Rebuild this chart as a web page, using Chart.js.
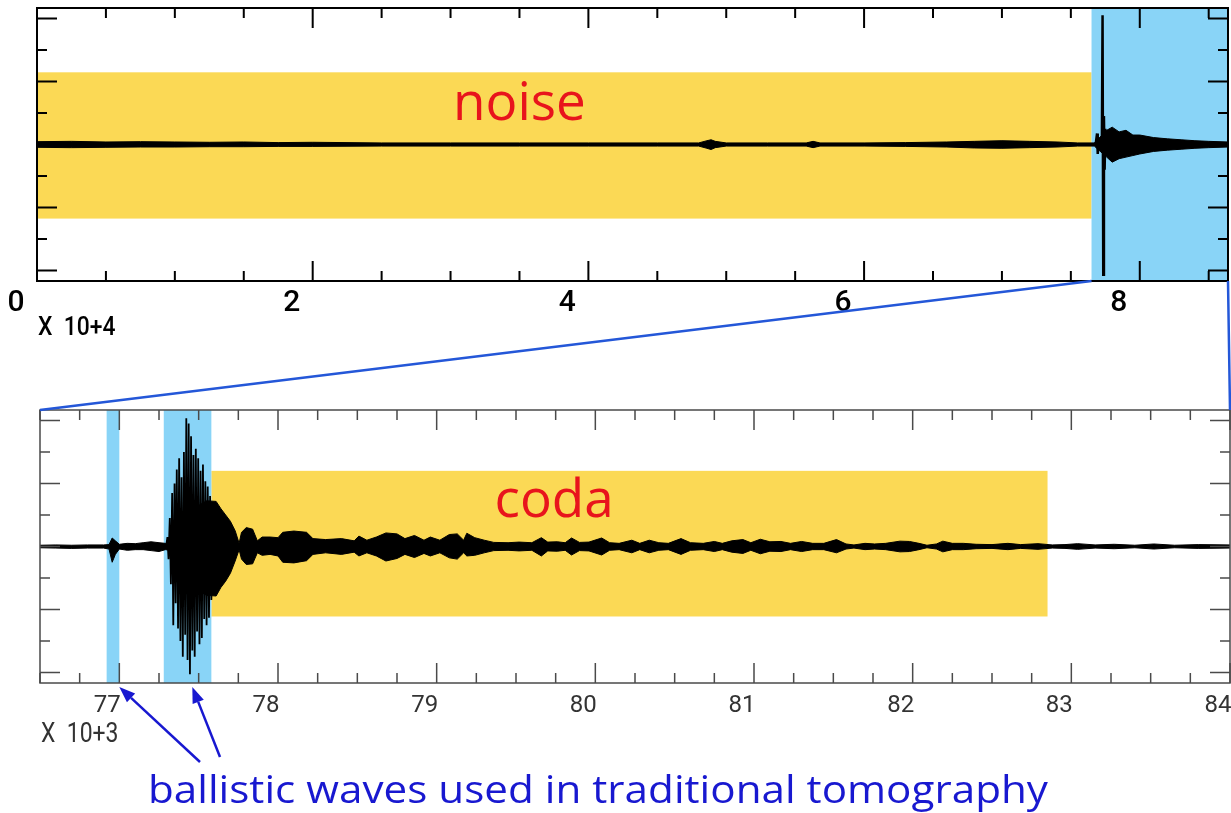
<!DOCTYPE html>
<html>
<head>
<meta charset="utf-8">
<script src="https://cdn.jsdelivr.net/npm/chart.js@4/dist/chart.umd.min.js"></script>
<style>
  body { margin: 0; background: #fff; }
  #wrap { position: relative; width: 1231px; height: 813px; }
  #wrap canvas { position: absolute; left: 0; top: 0; }
</style>
</head>
<body>
<div id="wrap">
  <canvas id="fullTrace" width="1231" height="813"></canvas>
  <canvas id="zoomTrace" width="1231" height="813"></canvas>
</div>
<script>
// ---- full record (time in units of 10^4 s, amplitude in tick units) ----
const topTimes = [0, 0.25, 0.5, 0.75, 1.0, 1.25, 1.5, 1.75, 2.0, 2.5, 3.0, 3.5, 4.0, 4.5, 4.8, 4.86, 4.89, 4.92, 5.0, 5.3, 5.58, 5.63, 5.68, 6.0, 6.3, 6.6, 6.8, 7.0, 7.2, 7.4, 7.55, 7.67, 7.76, 7.80, 7.85, 7.9, 7.95, 8.0, 8.1, 8.2, 8.3, 8.4, 8.5, 8.64];
const topUpper = [0.09, 0.1, 0.08, 0.09, 0.08, 0.07, 0.08, 0.06, 0.07, 0.05, 0.05, 0.05, 0.05, 0.05, 0.05, 0.12, 0.15, 0.1, 0.05, 0.05, 0.05, 0.1, 0.05, 0.05, 0.06, 0.08, 0.1, 0.12, 0.1, 0.08, 0.05, 0.05, 0.45, 0.55, 0.4, 0.45, 0.3, 0.3, 0.22, 0.18, 0.15, 0.12, 0.1, 0.08];
const topLower = [-0.09, -0.1, -0.09, -0.08, -0.08, -0.07, -0.07, -0.06, -0.06, -0.05, -0.05, -0.05, -0.05, -0.05, -0.05, -0.12, -0.16, -0.1, -0.05, -0.05, -0.05, -0.1, -0.05, -0.05, -0.06, -0.08, -0.11, -0.12, -0.1, -0.08, -0.05, -0.05, -0.4, -0.56, -0.45, -0.4, -0.35, -0.3, -0.22, -0.18, -0.15, -0.12, -0.1, -0.08];
const topPeakTimes = [7.68, 7.69, 7.695, 7.70, 7.725, 7.73, 7.735, 7.74, 7.745, 7.75, 7.76];
const topPeakValues = [0, 0.35, -0.3, 0, 0, 4.1, -4.13, 0.9, -0.8, 0.5, 0];
const noiseWindow = [0, 7.65];
const zoomWindow = [7.65, 8.64];
const noiseBand = [-2.35, 2.29];
const topTickStep = 0.5;
const topLabelStep = 2;

// ---- zoomed record (time in units of 10^3 s) ----
const botTimes = [76.50, 76.60, 76.70, 76.80, 76.90, 76.935, 76.955, 76.975, 77.00, 77.05, 77.10, 77.15, 77.20, 77.25, 77.29, 77.32, 77.36, 77.40, 77.45, 77.50, 77.55, 77.61, 77.64, 77.67, 77.70, 77.73, 77.755, 77.77, 77.80, 77.84, 77.87, 77.90, 77.95, 78.00, 78.03, 78.10, 78.18, 78.22, 78.30, 78.40, 78.48, 78.51, 78.56, 78.62, 78.68, 78.75, 78.80, 78.86, 78.92, 78.96, 79.02, 79.08, 79.13, 79.17, 79.19, 79.24, 79.30, 79.36, 79.45, 79.52, 79.60, 79.66, 79.70, 79.76, 79.81, 79.85, 79.90, 79.96, 80.04, 80.09, 80.15, 80.23, 80.28, 80.34, 80.40, 80.46, 80.54, 80.60, 80.68, 80.75, 80.80, 80.86, 80.93, 80.98, 81.04, 81.10, 81.17, 81.23, 81.30, 81.37, 81.44, 81.52, 81.58, 81.63, 81.70, 81.76, 81.83, 81.92, 81.98, 82.04, 82.09, 82.15, 82.19, 82.25, 82.32, 82.40, 82.50, 82.60, 82.68, 82.79, 82.88, 82.96, 83.04, 83.15, 83.27, 83.40, 83.52, 83.65, 83.80, 84.00];
const botUpper = [0.04, 0.05, 0.04, 0.05, 0.05, 0.06, 0.27, 0.18, 0.07, 0.10, 0.09, 0.12, 0.15, 0.12, 0.10, 0.10, 0.3, 0.6, 1.0, 1.3, 1.45, 1.43, 1.2, 1.0, 0.80, 0.50, 0.10, 0.45, 0.60, 0.55, 0.18, 0.30, 0.30, 0.28, 0.45, 0.49, 0.45, 0.25, 0.22, 0.25, 0.18, 0.33, 0.20, 0.30, 0.43, 0.40, 0.25, 0.35, 0.20, 0.30, 0.20, 0.38, 0.40, 0.20, 0.42, 0.28, 0.20, 0.13, 0.12, 0.14, 0.12, 0.28, 0.14, 0.15, 0.12, 0.27, 0.13, 0.14, 0.27, 0.12, 0.10, 0.20, 0.10, 0.20, 0.12, 0.10, 0.25, 0.12, 0.10, 0.16, 0.10, 0.18, 0.22, 0.12, 0.23, 0.15, 0.16, 0.10, 0.16, 0.10, 0.10, 0.22, 0.08, 0.05, 0.10, 0.08, 0.10, 0.17, 0.16, 0.10, 0.04, 0.08, 0.17, 0.10, 0.10, 0.07, 0.06, 0.10, 0.06, 0.09, 0.05, 0.06, 0.09, 0.05, 0.07, 0.04, 0.08, 0.04, 0.06, 0.05];
const botLower = [-0.04, -0.05, -0.06, -0.05, -0.05, -0.08, -0.50, -0.25, -0.08, -0.12, -0.10, -0.10, -0.13, -0.16, -0.10, -0.12, -0.35, -0.7, -1.1, -1.4, -1.55, -1.57, -1.3, -1.1, -0.85, -0.46, -0.10, -0.40, -0.57, -0.55, -0.20, -0.28, -0.25, -0.30, -0.50, -0.52, -0.45, -0.25, -0.20, -0.25, -0.18, -0.30, -0.20, -0.30, -0.46, -0.38, -0.25, -0.35, -0.22, -0.30, -0.20, -0.36, -0.40, -0.20, -0.30, -0.28, -0.20, -0.13, -0.12, -0.14, -0.12, -0.30, -0.14, -0.15, -0.12, -0.27, -0.13, -0.14, -0.27, -0.12, -0.10, -0.20, -0.10, -0.20, -0.12, -0.10, -0.25, -0.12, -0.10, -0.16, -0.10, -0.18, -0.22, -0.12, -0.23, -0.15, -0.16, -0.10, -0.16, -0.10, -0.10, -0.20, -0.08, -0.05, -0.10, -0.08, -0.10, -0.17, -0.16, -0.10, -0.04, -0.08, -0.17, -0.10, -0.10, -0.07, -0.06, -0.10, -0.06, -0.09, -0.05, -0.06, -0.09, -0.05, -0.07, -0.04, -0.08, -0.04, -0.06, -0.05];
const burstTimes = [77.295, 77.303, 77.310, 77.318, 77.325, 77.333, 77.340, 77.348, 77.355, 77.362, 77.370, 77.377, 77.385, 77.392, 77.400, 77.407, 77.415, 77.422, 77.430, 77.437, 77.445, 77.452, 77.460, 77.467, 77.475, 77.482, 77.490, 77.497, 77.505, 77.512, 77.520, 77.527, 77.535, 77.542, 77.550, 77.557, 77.565, 77.572, 77.580, 77.590];
const burstValues = [0, 0.3, -0.4, 0.9, -1.2, 1.7, -2.5, 2.0, -1.8, 2.44, -2.6, 2.8, -3.0, 2.2, -3.5, 3.0, -2.8, 4.07, -3.6, 3.9, -4.05, 3.5, -3.3, 2.9, -3.5, 3.1, -2.7, 2.8, -3.1, 2.4, -2.9, 2.6, -2.3, 2.07, -2.5, 1.9, -2.26, 1.6, -1.7, 0.5];
const ballisticWindows = [[76.92, 77.0], [77.28, 77.58]];
const codaWindow = [77.58, 82.85];
const codaBand = [-2.22, 2.40];
const botTickStep = 0.25;
const botLabelStep = 1;

const ampTicks = [-4, -3, -2, -1, 0, 1, 2, 3, 4];
const ampRange = [-4.33, 4.33];

const YELLOW = '#fbd955';
const BLUE = '#89d4f7';

function pts(xs, ys) { return xs.map((x, i) => ({ x: x, y: ys[i] })); }
function isMajor(v, step) { return Math.abs(v / step - Math.round(v / step)) < 1e-6; }

// shaded windows behind the trace
const windowsPlugin = {
  id: 'windows',
  beforeDatasetsDraw(chart, args, opts) {
    const { ctx, chartArea: a, scales: { x, y } } = chart;
    ctx.save();
    opts.boxes.forEach(b => {
      const x0 = x.getPixelForValue(b.from), x1 = x.getPixelForValue(b.to);
      const y0 = b.hi == null ? a.top : y.getPixelForValue(b.hi);
      const y1 = b.lo == null ? a.bottom : y.getPixelForValue(b.lo);
      ctx.fillStyle = b.color;
      ctx.fillRect(x0, y0, x1 - x0, y1 - y0);
    });
    ctx.restore();
  }
};

// SAC-style frame with inward ticks, word label, axis multiplier
const framePlugin = {
  id: 'frame',
  afterDatasetsDraw(chart, args, opts) {
    const { ctx, chartArea: a, scales: { x, y } } = chart;
    ctx.save();
    ctx.strokeStyle = opts.color;
    ctx.lineWidth = opts.width;
    ctx.strokeRect(a.left, a.top, a.right - a.left, a.bottom - a.top);
    ctx.beginPath();
    x.ticks.forEach(t => {
      const px = x.getPixelForValue(t.value);
      const len = isMajor(t.value, opts.labelStep) ? 20 : 10;
      ctx.moveTo(px, a.bottom); ctx.lineTo(px, a.bottom - len);
      ctx.moveTo(px, a.top); ctx.lineTo(px, a.top + len);
    });
    ampTicks.forEach(v => {
      const py = y.getPixelForValue(v);
      const len = v % 2 === 0 ? 20 : 10;
      ctx.moveTo(a.left, py); ctx.lineTo(a.left + len, py);
      ctx.moveTo(a.right, py); ctx.lineTo(a.right - len, py);
    });
    ctx.stroke();

    ctx.fillStyle = '#e8141c';
    ctx.font = '53px "Open Sans"';
    ctx.textAlign = 'center';
    ctx.textBaseline = 'alphabetic';
    ctx.fillText(opts.word, x.getPixelForValue(opts.wordX), y.getPixelForValue(opts.wordY));

    // narrow multiplier label under the axis
    ctx.fillStyle = opts.textColor;
    ctx.font = opts.multFont;
    ctx.textAlign = 'left';
    ctx.textBaseline = 'middle';
    ctx.translate(a.left + 1, a.bottom + opts.multDy);
    ctx.scale(opts.multSqueeze, 1);
    ctx.fillText(opts.mult, 0, 0);
    ctx.restore();
  }
};

function traceSets(times, upper, lower, peakT, peakV, peakWidth) {
  return [
    { data: pts(times, upper), borderColor: '#000', borderWidth: 1, pointRadius: 0, fill: false },
    { data: pts(times, lower), borderColor: '#000', borderWidth: 1, pointRadius: 0, fill: '-1', backgroundColor: '#000' },
    { data: pts(peakT, peakV), borderColor: '#000', borderWidth: peakWidth, pointRadius: 0, fill: false }
  ];
}

function baseOptions(cfg) {
  return {
    responsive: false,
    animation: false,
    events: [],
    layout: { padding: cfg.padding },
    plugins: {
      legend: { display: false },
      tooltip: { enabled: false },
      windows: { boxes: cfg.boxes },
      frame: cfg.frame
    },
    scales: {
      x: {
        type: 'linear',
        min: cfg.xmin,
        max: cfg.xmax,
        grid: { display: false },
        border: { display: false },
        afterFit(scale) { scale.height = 60; scale.paddingLeft = 0; scale.paddingRight = 0; },
        ticks: {
          stepSize: cfg.step,
          includeBounds: false,
          autoSkip: false,
          maxRotation: 0,
          labelOffset: cfg.labelOffset,
          padding: cfg.tickPad,
          color: cfg.frame.textColor,
          font: cfg.tickFont,
          callback: v => isMajor(v, cfg.labelStep) ? String(Math.round(v)) : ''
        }
      },
      y: { type: 'linear', display: false, min: ampRange[0], max: ampRange[1] }
    }
  };
}

const topChart = new Chart(document.getElementById('fullTrace'), {
  type: 'line',
  data: { datasets: traceSets(topTimes, topUpper, topLower, topPeakTimes, topPeakValues, 2.5) },
  options: baseOptions({
    padding: { left: 37, top: 8, right: 3, bottom: 472 },
    xmin: 0, xmax: 8.64, step: topTickStep, labelStep: topLabelStep,
    labelOffset: -21, tickPad: -4,
    tickFont: { family: 'Roboto', size: 30, weight: 500 },
    boxes: [
      { from: noiseWindow[0], to: noiseWindow[1], lo: noiseBand[0], hi: noiseBand[1], color: YELLOW },
      { from: zoomWindow[0], to: zoomWindow[1], color: BLUE }
    ],
    frame: {
      color: '#000', width: 2, labelStep: topLabelStep, textColor: '#000',
      word: 'noise', wordX: 3.5, wordY: 0.79,
      mult: 'X  10+4', multFont: '500 26px Roboto', multDy: 47, multSqueeze: 0.88
    }
  }),
  plugins: [windowsPlugin, framePlugin]
});

// zoom guide lines, caption and arrows
const notePlugin = {
  id: 'note',
  afterDraw(chart) {
    const { ctx, chartArea: a, scales: { x } } = chart;
    const ta = topChart.chartArea, tx = topChart.scales.x;
    ctx.save();
    ctx.strokeStyle = '#2457d8';
    ctx.lineWidth = 2.5;
    ctx.beginPath();
    ctx.moveTo(tx.getPixelForValue(zoomWindow[0]), ta.bottom);
    ctx.lineTo(a.left, a.top);
    ctx.moveTo(ta.right, ta.bottom);
    ctx.lineTo(a.right, a.top);
    ctx.stroke();

    const capX = 148, capY = 803, capW = 900;
    const caption = 'ballistic waves used in traditional tomography';
    ctx.fillStyle = '#1818d0';
    ctx.font = '39px "Open Sans"';
    ctx.textAlign = 'left';
    ctx.textBaseline = 'alphabetic';
    const w = ctx.measureText(caption).width;
    ctx.save();
    ctx.translate(capX, capY);
    ctx.scale(capW / w, 1);
    ctx.fillText(caption, 0, 0);
    ctx.restore();

    const arrows = [
      { tipT: ballisticWindows[0][1], tail: [capX + 52, capY - 41] },
      { tipT: 77.46, tail: [capX + 72, capY - 46] }
    ];
    ctx.strokeStyle = '#1818d0';
    ctx.lineWidth = 2.5;
    arrows.forEach(ar => {
      const tx1 = x.getPixelForValue(ar.tipT), ty1 = a.bottom + 4;
      const [sx, sy] = ar.tail;
      const ang = Math.atan2(ty1 - sy, tx1 - sx);
      const hl = 16, hw = 6;
      const bx = tx1 - hl * Math.cos(ang), by = ty1 - hl * Math.sin(ang);
      ctx.beginPath();
      ctx.moveTo(sx, sy);
      ctx.lineTo(bx, by);
      ctx.stroke();
      ctx.beginPath();
      ctx.moveTo(tx1, ty1);
      ctx.lineTo(bx + hw * Math.sin(ang), by - hw * Math.cos(ang));
      ctx.lineTo(bx - hw * Math.sin(ang), by + hw * Math.cos(ang));
      ctx.closePath();
      ctx.fillStyle = '#1818d0';
      ctx.fill();
    });
    ctx.restore();
  }
};

const zoomChart = new Chart(document.getElementById('zoomTrace'), {
  type: 'line',
  data: { datasets: traceSets(botTimes, botUpper, botLower, burstTimes, burstValues, 1.8) },
  options: baseOptions({
    padding: { left: 40, top: 410, right: 1, bottom: 70 },
    xmin: 76.5, xmax: 84, step: botTickStep, labelStep: botLabelStep,
    labelOffset: -12, tickPad: 1,
    tickFont: { family: 'Roboto', size: 24 },
    boxes: [
      { from: codaWindow[0], to: codaWindow[1], lo: codaBand[0], hi: codaBand[1], color: YELLOW },
      { from: ballisticWindows[0][0], to: ballisticWindows[0][1], color: BLUE },
      { from: ballisticWindows[1][0], to: ballisticWindows[1][1], color: BLUE }
    ],
    frame: {
      color: '#4a4a4a', width: 1.5, labelStep: botLabelStep, textColor: '#333',
      word: 'coda', wordX: 79.74, wordY: 0.93,
      mult: 'X  10+3', multFont: '27px Roboto', multDy: 52, multSqueeze: 0.85
    }
  }),
  plugins: [windowsPlugin, framePlugin, notePlugin]
});
</script>
</body>
</html>
